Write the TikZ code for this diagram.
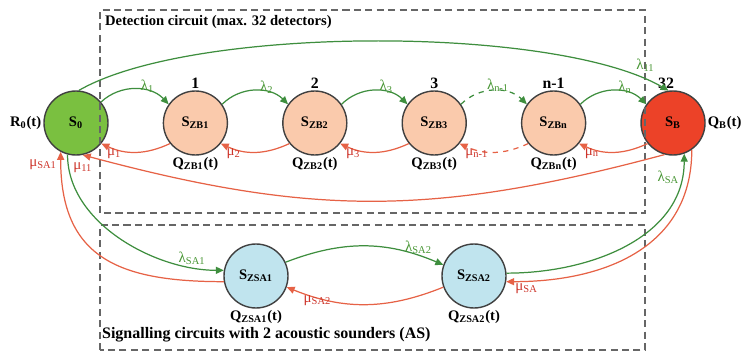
\documentclass[tikz,border=0pt]{standalone}
\usepackage{fontspec}
\setmainfont{Liberation Serif}
\usetikzlibrary{positioning, arrows.meta, calc}

\definecolor{stategreen}{RGB}{122,192,64}
\definecolor{statered}{RGB}{236,66,40}
\definecolor{statepeach}{RGB}{250,202,172}
\definecolor{stateblue}{RGB}{192,228,238}
\definecolor{arcgreen}{RGB}{62,142,62}
\definecolor{arcred}{RGB}{230,98,70}
\definecolor{labgreen}{RGB}{72,150,52}
\definecolor{labred}{RGB}{205,52,42}

\begin{document}
\begin{tikzpicture}[
    state/.style={draw=black!75, line width=0.8pt, circle, minimum size=1.28cm, inner sep=0pt, font=\fontsize{8.3}{10}\selectfont\bfseries},
    detstate/.style={state, fill=statepeach},
    sastate/.style={state, fill=stateblue},
    qlabel/.style={font=\fontsize{8.3}{10}\selectfont\bfseries, inner sep=1pt},
    nrlabel/.style={font=\fontsize{9}{10}\selectfont\bfseries, inner sep=1pt},
    lam/.style={draw=arcgreen, line width=0.7pt, -{Triangle[length=4.5pt,width=4pt]}},
    mu/.style={draw=arcred, line width=0.7pt, -{Triangle[length=4.5pt,width=4pt]}},
    glab/.style={text=labgreen, font=\fontsize{8.5}{10}\selectfont, inner sep=1pt},
    rlab/.style={text=labred, font=\fontsize{8.5}{10}\selectfont, inner sep=1pt},
    frame/.style={draw=black!60, line width=0.7pt, dash pattern=on 4pt off 2.5pt},
    title/.style={font=\fontsize{8.3}{10}\selectfont\bfseries, inner sep=1pt}
]
\useasboundingbox (0,0) rectangle (14.98,7.04);

% States
\node[state, fill=stategreen] (S0) at (1.52,4.58) {S\textsubscript{0}};
\node[detstate, right=1.08cm of S0] (ZB1) {S\textsubscript{ZB1}};
\node[detstate, right=1.08cm of ZB1] (ZB2) {S\textsubscript{ZB2}};
\node[detstate, right=1.08cm of ZB2] (ZB3) {S\textsubscript{ZB3}};
\node[detstate, right=1.08cm of ZB3] (ZBn) {S\textsubscript{ZBn}};
\node[state, fill=statered, right=1.08cm of ZBn] (SB) {S\textsubscript{B}};
\node[sastate] (ZSA1) at (5.12,1.52) {S\textsubscript{ZSA1}};
\node[sastate] (ZSA2) at (9.48,1.52) {S\textsubscript{ZSA2}};

% Labels at the states
\node[qlabel, left=0pt of S0] (R0) {R\textsubscript{0}(t)};
\node[qlabel, below=0pt of ZB1] (qZB1) {Q\textsubscript{ZB1}(t)};
\node[qlabel, below=0pt of ZB2] (qZB2) {Q\textsubscript{ZB2}(t)};
\node[qlabel, below=0pt of ZB3] (qZB3) {Q\textsubscript{ZB3}(t)};
\node[qlabel, below=0pt of ZBn] (qZBn) {Q\textsubscript{ZBn}(t)};
\node[qlabel, right=0pt of SB] (qB) {Q\textsubscript{B}(t)};
\node[qlabel, below=0pt of ZSA1] (qZSA1) {Q\textsubscript{ZSA1}(t)};
\node[qlabel, below=0pt of ZSA2] (qZSA2) {Q\textsubscript{ZSA2}(t)};
\node[nrlabel, above=0pt of ZB1] (n1) {1};
\node[nrlabel, above=0pt of ZB2] (n2) {2};
\node[nrlabel, above=0pt of ZB3] (n3) {3};
\node[nrlabel, above=0pt of ZBn] (nn) {n-1};
\node[nrlabel, above=0pt of SB, xshift=-4pt] (n32) {32};

% Circuit frames
\draw[frame] (2.0,2.78) rectangle (12.9,6.84);
\draw[frame] (2.0,0.04) rectangle (12.9,2.54);
\node[title, anchor=north west] (det) at (2.06,6.78) {Detection circuit (max. 32 detectors)};
\node[title, anchor=south west, font=\fontsize{9.1}{11}\selectfont\bfseries] (sig) at (2.0,0.16) {Signalling circuits with 2 acoustic sounders (AS)};

% Transitions in the detection circuit
\draw[lam] (S0.40) to[bend left=45] node[glab, pos=0.8, above left=0pt] {λ\textsubscript{1}} (ZB1.145);
\draw[mu] (ZB1.219) to[bend left=25] node[rlab, pos=0.97, below right=1pt] {μ\textsubscript{1}} (S0.321);
\draw[lam] (ZB1.35) to[bend left=45] node[glab, pos=0.8, above left=0pt] {λ\textsubscript{2}} (ZB2.145);
\draw[mu] (ZB2.219) to[bend left=25] node[rlab, pos=0.97, below right=1pt] {μ\textsubscript{2}} (ZB1.321);
\draw[lam] (ZB2.35) to[bend left=45] node[glab, pos=0.8, above left=0pt] {λ\textsubscript{3}} (ZB3.145);
\draw[mu] (ZB3.219) to[bend left=25] node[rlab, pos=0.97, below right=1pt] {μ\textsubscript{3}} (ZB2.321);
\draw[lam, dashed] (ZB3.35) to[bend left=45] node[glab, pos=0.75, above left=0pt] {λ\textsubscript{n-1}} (ZBn.145);
\draw[mu, dashed] (ZBn.219) to[bend left=25] node[rlab, pos=0.97, below right=1pt] {μ\textsubscript{n-1}} (ZB3.321);
\draw[lam] (ZBn.35) to[bend left=45] node[glab, pos=0.8, above left=0pt] {λ\textsubscript{n}} (SB.145);
\draw[mu] (SB.219) to[bend left=25] node[rlab, pos=0.97, below right=1pt] {μ\textsubscript{n}} (ZBn.321);
\draw[lam] (S0.85) to[out=30, in=150, looseness=0.57] node[glab, pos=0.94, above=3pt] {λ\textsubscript{11}} (SB.98);
\draw[mu] (SB.255) to[out=195, in=-15, looseness=1.05] node[rlab, pos=1, below=3pt] {μ\textsubscript{11}} (S0.-78);

% Transitions to the signalling circuits
\draw[lam] (S0.255) to[out=-90, in=180, looseness=0.9] node[glab, pos=0.85, above] {λ\textsubscript{SA1}} (ZSA1.170);
\draw[mu] (ZSA1.190) to[out=180, in=-90, looseness=1.3] node[rlab, pos=0.96, left=1pt] {μ\textsubscript{SA1}} (S0.242);
\draw[lam] (ZSA1.25) to[bend left=22] node[glab, pos=0.85, above] {λ\textsubscript{SA2}} (ZSA2.160);
\draw[mu] (ZSA2.200) to[bend left=22] node[rlab, pos=0.92, below right=1pt] {μ\textsubscript{SA2}} (ZSA1.-20);
\draw[lam] (ZSA2.5) to[out=0, in=-90] node[glab, pos=0.9, left] {λ\textsubscript{SA}} (SB.-70);
\draw[mu] (SB.-55) to[out=-90, in=0, looseness=1.1] node[rlab, pos=0.93, below] {μ\textsubscript{SA}} (ZSA2.-10);

\end{tikzpicture}
\end{document}
